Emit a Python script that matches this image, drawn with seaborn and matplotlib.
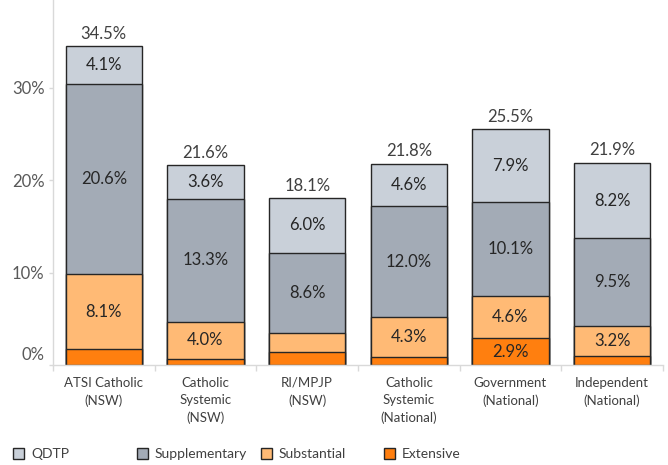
import matplotlib
matplotlib.use("Agg")
import matplotlib.pyplot as plt
import matplotlib.transforms as mtransforms
from matplotlib.patches import Patch
import seaborn as sns

# Chart data (percent of students)
categories = ["ATSI Catholic\n(NSW)", "Catholic\nSystemic\n(NSW)", "RI/MPJP\n(NSW)",
              "Catholic\nSystemic\n(National)", "Government\n(National)", "Independent\n(National)"]
extensive = [1.7, 0.7, 1.4, 0.9, 2.9, 1.0]
substantial = [8.1, 4.0, 2.1, 4.3, 4.6, 3.2]
supplementary = [20.6, 13.3, 8.6, 12.0, 10.1, 9.5]
qdtp = [4.1, 3.6, 6.0, 4.6, 7.9, 8.2]
totals = [34.5, 21.6, 18.1, 21.8, 25.5, 21.9]
y_ticks = [0, 10, 20, 30]

series_names = ["QDTP", "Supplementary", "Substantial", "Extensive"]
colors = {"QDTP": "#C9D0D9", "Supplementary": "#A3ABB6",
          "Substantial": "#FFBA75", "Extensive": "#FF7F0F"}

sns.set_style("white")
plt.rcParams['font.family'] = ['Lato', 'DejaVu Sans']

fig = plt.figure(figsize=(6.68, 4.65), dpi=100)
ax = fig.add_axes([53 / 668, 1 - 365 / 465, 610 / 668, 365 / 465])

# stacked layers drawn as cumulative bars, tallest first
layers = [extensive, substantial, supplementary, qdtp]
cum = []
running = [0.0] * len(categories)
for vals in layers:
    running = [r + v for r, v in zip(running, vals)]
    cum.append(list(running))
layer_names = ["Extensive", "Substantial", "Supplementary", "QDTP"]

for name, heights in reversed(list(zip(layer_names, cum))):
    sns.barplot(x=categories, y=heights, color=colors[name], saturation=1,
                width=0.75, edgecolor="#262626", linewidth=1.0, ax=ax)

# segment labels
bottoms = [0.0] * len(categories)
for vals in layers:
    for i, v in enumerate(vals):
        if v >= 2.5:
            ax.text(i, bottoms[i] + v / 2, f"{v:.1f}%", ha="center", va="center",
                    fontsize=12, color="#262626")
    bottoms = [b + v for b, v in zip(bottoms, vals)]

# totals above bars
for i, t in enumerate(totals):
    ax.annotate(f"{t:.1f}%", (i, t), xytext=(0, 3), textcoords="offset points",
                ha="center", va="bottom", fontsize=12, color="#404040")

ax.set_xlim(-0.5, len(categories) - 0.5)
ax.set_ylim(0, 39.5)
ax.set_yticks(y_ticks)
ax.set_yticklabels([f"{t}%" for t in y_ticks])
ax.set_xlabel("")
ax.set_ylabel("")

for s in ["top", "right"]:
    ax.spines[s].set_visible(False)
for s in ["left", "bottom"]:
    ax.spines[s].set_color("#D9D9D9")
    ax.spines[s].set_linewidth(1.0)

ax.tick_params(axis="y", left=True, length=3, width=1, color="#D9D9D9",
               labelsize=12, labelcolor="#595959", pad=3)
ax.tick_params(axis="x", bottom=False, labelsize=9.5, labelcolor="#404040", pad=5)
ax.set_xticks([i + 0.5 for i in range(-1, len(categories))], minor=True)
ax.tick_params(axis="x", which="minor", bottom=True, length=4, width=1, color="#D9D9D9")
for lbl in ax.get_xticklabels():
    lbl.set_linespacing(1.5)

# Excel placed the 0% label a bit above the baseline
lbl0 = ax.get_yticklabels()[0]
lbl0.set_transform(lbl0.get_transform() + mtransforms.ScaledTranslation(0, 12 / 100, fig.dpi_scale_trans))

# legend: four evenly spaced entries
legend_x = [0.02, 0.205, 0.39, 0.575]
for name, lx in zip(series_names, legend_x):
    h = Patch(facecolor=colors[name], edgecolor="#262626", linewidth=1.0)
    fig.legend([h], [name], loc="center left", bbox_to_anchor=(lx, 0.023),
               frameon=False, fontsize=10, handlelength=0.8, handleheight=0.8,
               handletextpad=0.5, borderaxespad=0, borderpad=0, labelcolor="#404040")

fig.savefig("out.png", dpi=100)
